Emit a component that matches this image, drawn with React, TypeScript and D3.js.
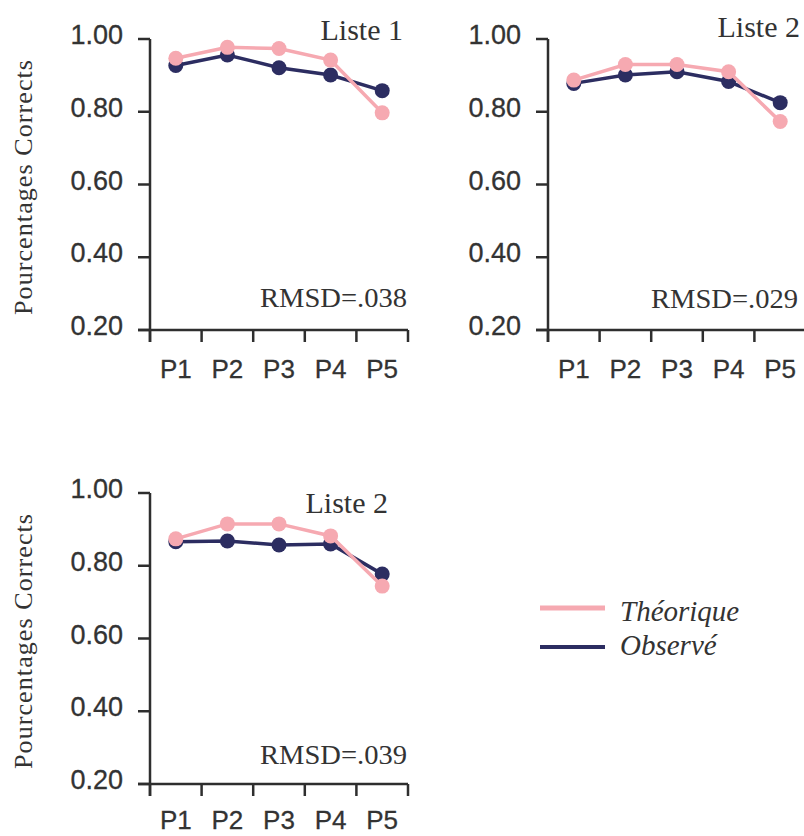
import React from "react";
import * as d3 from "d3";

const categories = ["P1", "P2", "P3", "P4", "P5"];
const yTicks = [0.2, 0.4, 0.6, 0.8, 1.0];

const theo1 = [0.947, 0.977, 0.974, 0.942, 0.797];
const obs1 = [0.927, 0.956, 0.921, 0.901, 0.858];
const theo2 = [0.887, 0.93, 0.93, 0.91, 0.773];
const obs2 = [0.878, 0.901, 0.91, 0.883, 0.825];
const theo3 = [0.874, 0.915, 0.915, 0.882, 0.744];
const obs3 = [0.866, 0.868, 0.857, 0.86, 0.777];

const titles = ["Liste 1", "Liste 2", "Liste 2"];
const rmsds = ["RMSD=.038", "RMSD=.029", "RMSD=.039"];
const legendLabels = ["Théorique", "Observé"];

const PINK = "#f6a9b1";
const NAVY = "#2c2d61";
const AXIS = "#2e2e2e";
const W = 258;
const H = 291;

type PanelProps = {
  x0: number;
  y0: number;
  theo: number[];
  obs: number[];
  title: string;
  rmsd: string;
  titleX: number;
  titleY: number;
  rmsdY: number;
  rmsdX: number;
  labelDy: number;
  showYLabel: boolean;
};

function Panel(p: PanelProps) {
  const x = d3.scaleBand<string>().domain(categories).range([0, W]).padding(0);
  const y = d3.scaleLinear().domain([0.2, 1.0]).range([H, 0]);
  const bw = x.bandwidth();
  const cx = (c: string) => (x(c) as number) + bw / 2;
  const line = d3
    .line<number>()
    .x((_, i) => cx(categories[i]))
    .y((d) => y(d));
  const boundaries = d3.range(categories.length + 1).map((i) => i * bw);
  return (
    <g transform={`translate(${p.x0},${p.y0})`}>
      {/* y axis */}
      <line x1={0} x2={0} y1={0} y2={H + 12} stroke={AXIS} strokeWidth={2.5} />
      {yTicks.map((t) => (
        <g key={t}>
          <line x1={-12} x2={0} y1={y(t)} y2={y(t)} stroke={AXIS} strokeWidth={2.5} />
          <text
            x={-27}
            y={y(t) + 5}
            textAnchor="end"
            fontFamily="Liberation Sans, Arial, sans-serif"
            fontSize={27}
            fill="#333"
            stroke="#333"
            strokeWidth={0.3}
          >
            {t.toFixed(2)}
          </text>
        </g>
      ))}
      {/* x axis */}
      <line x1={-12} x2={W} y1={H} y2={H} stroke={AXIS} strokeWidth={2.5} />
      {boundaries.map((b) => (
        <line key={b} x1={b} x2={b} y1={H} y2={H + 12} stroke={AXIS} strokeWidth={2.5} />
      ))}
      {categories.map((c) => (
        <text
          key={c}
          x={cx(c)}
          y={H + p.labelDy}
          textAnchor="middle"
          fontFamily="Liberation Sans, Arial, sans-serif"
          fontSize={26}
          fill="#333"
          stroke="#333"
          strokeWidth={0.3}
        >
          {c}
        </text>
      ))}
      {/* series */}
      <path d={line(p.obs) || ""} fill="none" stroke={NAVY} strokeWidth={3.5} />
      {p.obs.map((v, i) => (
        <circle key={"o" + i} cx={cx(categories[i])} cy={y(v)} r={7.5} fill={NAVY} />
      ))}
      <path d={line(p.theo) || ""} fill="none" stroke={PINK} strokeWidth={3.5} />
      {p.theo.map((v, i) => (
        <circle key={"t" + i} cx={cx(categories[i])} cy={y(v)} r={7.5} fill={PINK} />
      ))}
      <text
        x={p.titleX}
        y={p.titleY}
        textAnchor="end"
        fontFamily="Liberation Serif, Times New Roman, serif"
        fontSize={30}
        fill="#333"
      >
        {p.title}
      </text>
      <text
        x={p.rmsdX}
        y={p.rmsdY}
        textAnchor="end"
        fontFamily="Liberation Serif, Times New Roman, serif"
        fontSize={27}
        fill="#333"
        textLength={147}
        lengthAdjust="spacingAndGlyphs"
      >
        {p.rmsd}
      </text>
      {p.showYLabel && (
        <text
          transform={`translate(${-118},${H / 2 + 3}) rotate(-90)`}
          textAnchor="middle"
          fontFamily="Liberation Serif, Times New Roman, serif"
          fontSize={26}
          fill="#333"
          textLength={255}
          lengthAdjust="spacing"
        >
          Pourcentages Corrects
        </text>
      )}
    </g>
  );
}

export default function App() {
  return (
    <svg width={804} height={836} style={{ position: "absolute", left: 0, top: 0, background: "#fff" }}>
      <rect width={804} height={836} fill="#fff" />
      <Panel
        x0={150}
        y0={39}
        theo={theo1}
        obs={obs1}
        title={titles[0]}
        rmsd={rmsds[0]}
        titleX={253}
        titleY={1}
        rmsdX={257}
        rmsdY={268}
        labelDy={48}
        showYLabel={true}
      />
      <Panel
        x0={548}
        y0={39}
        theo={theo2}
        obs={obs2}
        title={titles[1]}
        rmsd={rmsds[1]}
        titleX={252}
        titleY={-2}
        rmsdX={250}
        rmsdY={269}
        labelDy={48}
        showYLabel={false}
      />
      <Panel
        x0={150}
        y0={493}
        theo={theo3}
        obs={obs3}
        title={titles[2]}
        rmsd={rmsds[2]}
        titleX={238}
        titleY={20}
        rmsdX={257}
        rmsdY={271}
        labelDy={45}
        showYLabel={true}
      />
      {/* legend */}
      <g>
        <line x1={540} x2={605} y1={608} y2={608} stroke={PINK} strokeWidth={5} />
        <line x1={540} x2={605} y1={647} y2={647} stroke={NAVY} strokeWidth={4} />
        <text x={620} y={621} fontFamily="Liberation Serif, Times New Roman, serif" fontStyle="italic" fontSize={29} fill="#333">
          {legendLabels[0]}
        </text>
        <text x={620} y={655} fontFamily="Liberation Serif, Times New Roman, serif" fontStyle="italic" fontSize={29} fill="#333">
          {legendLabels[1]}
        </text>
      </g>
    </svg>
  );
}
